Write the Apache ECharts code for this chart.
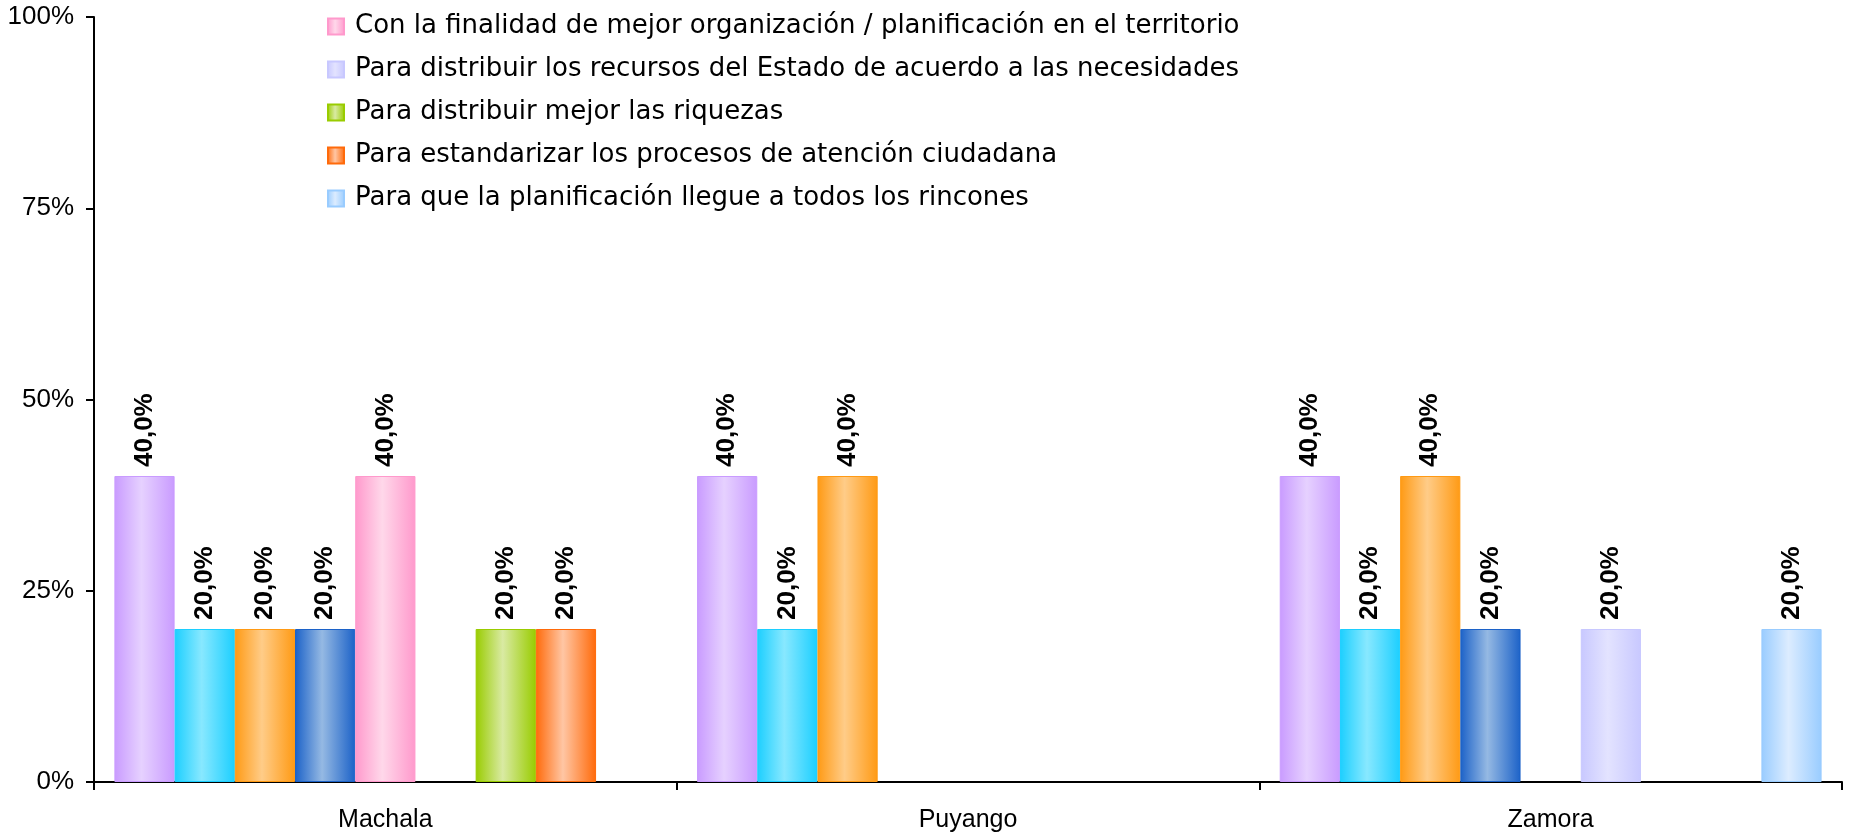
<!DOCTYPE html>
<html>
<head>
<meta charset="utf-8">
<script src="https://cdn.jsdelivr.net/npm/echarts@6/dist/echarts.min.js"></script>
<style>html,body{margin:0;padding:0;background:#fff}#c{width:1849px;height:836px}</style>
</head>
<body>
<div id="c"></div>
<script>
const categories = ['Machala', 'Puyango', 'Zamora'];
const yTicks = [0, 25, 50, 75, 100];

const seriesNames = [
  'Serie 1',
  'Serie 2',
  'Serie 3',
  'Serie 4',
  'Con la finalidad de mejor organización / planificación en el territorio',
  'Para distribuir los recursos del Estado de acuerdo a las necesidades',
  'Para distribuir mejor las riquezas',
  'Para estandarizar los procesos de atención ciudadana',
  'Para que la planificación llegue a todos los rincones'
];
const legendNames = seriesNames.slice(4);

const s1 = [40, 40, 40];
const s2 = [20, 20, 20];
const s3 = [20, 40, 40];
const s4 = [20, null, 20];
const s5 = [40, null, null];
const s6 = [null, null, 20];
const s7 = [20, null, null];
const s8 = [20, null, null];
const s9 = [null, null, 20];
const seriesValues = [s1, s2, s3, s4, s5, s6, s7, s8, s9];

const edgeColors  = ['#c99bff', '#1ccfff', '#ff9a14', '#1c62c8', '#ff99cc', '#c8c8ff', '#99cc00', '#ff6a0a', '#99ccff'];
const lightColors = ['#e6d1ff', '#88e8ff', '#ffcc88', '#95b9e3', '#ffd8ea', '#e3e3ff', '#d9eaa3', '#ffc6a4', '#dcecff'];

function grad(i) {
  return new echarts.graphic.LinearGradient(0, 0, 1, 0, [
    {offset: 0, color: edgeColors[i]},
    {offset: 0.45, color: lightColors[i]},
    {offset: 1, color: edgeColors[i]}
  ]);
}

const fontFam = '"Liberation Sans", Arial, sans-serif';
const legendFam = '"DejaVu Sans", sans-serif';

const chart = echarts.init(document.getElementById('c'), null, {renderer: 'canvas'});
chart.setOption({
  backgroundColor: '#ffffff',
  animation: false,
  grid: {left: 94, right: 7, top: 17, bottom: 54, containLabel: false},
  legend: {
    data: legendNames,
    orient: 'vertical',
    left: 322,
    top: 6,
    itemWidth: 16,
    itemHeight: 16,
    itemGap: 12,
    icon: 'rect',
    textStyle: {fontFamily: legendFam, fontSize: 26, color: '#000', lineHeight: 31, padding: [0, 0, 0, 6]}
  },
  xAxis: {
    type: 'category',
    data: categories,
    axisLine: {lineStyle: {color: '#000', width: 2}},
    axisTick: {show: true, length: 8, lineStyle: {color: '#000', width: 2}},
    axisLabel: {fontFamily: fontFam, fontSize: 25, color: '#000', margin: 26}
  },
  yAxis: {
    type: 'value',
    min: 0, max: 100, interval: 25,
    axisLine: {show: true, lineStyle: {color: '#000', width: 2}},
    axisTick: {show: true, length: 8, lineStyle: {color: '#000', width: 2}},
    splitLine: {show: false},
    axisLabel: {fontFamily: fontFam, fontSize: 26, color: '#000', margin: 20,
      formatter: v => yTicks.includes(v) ? v + '%' : ''}
  },
  series: seriesValues.map((vals, i) => ({
    name: seriesNames[i],
    type: 'bar',
    data: vals,
    barGap: '0%',
    barCategoryGap: '7%',
    itemStyle: {color: grad(i), borderColor: edgeColors[i], borderWidth: 1},
    label: {
      show: true,
      position: 'top',
      rotate: 90,
      align: 'left',
      verticalAlign: 'middle',
      distance: 9,
      fontFamily: fontFam,
      fontWeight: 'bold',
      fontSize: 26,
      color: '#000',
      formatter: p => p.value == null ? '' : p.value.toFixed(1).replace('.', ',') + '%'
    }
  }))
});
</script>
</body>
</html>
